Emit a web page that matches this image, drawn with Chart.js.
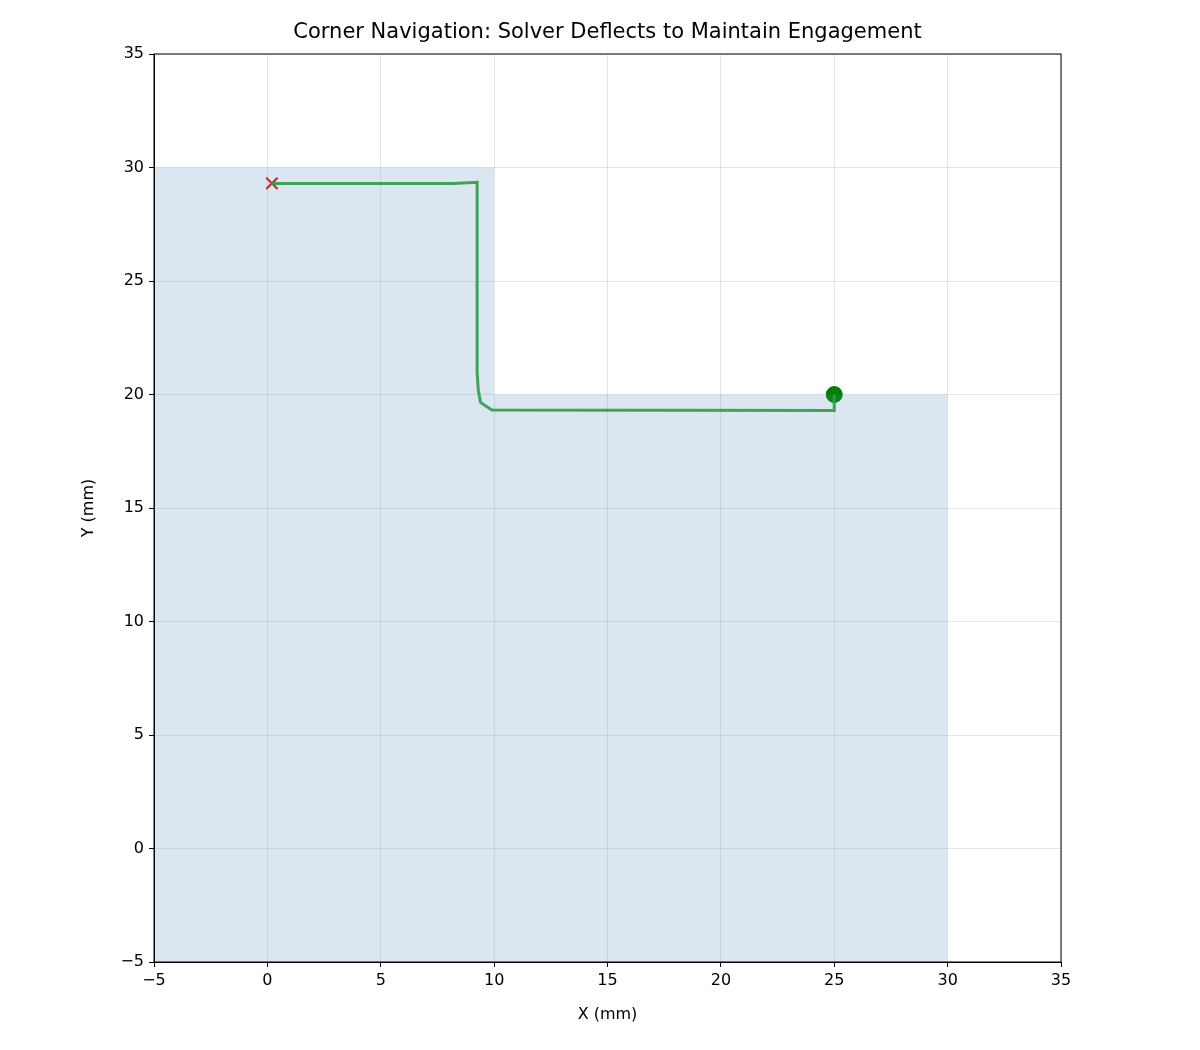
<!DOCTYPE html>
<html>
<head>
<meta charset="utf-8">
<script src="https://cdn.jsdelivr.net/npm/chart.js@4/dist/chart.umd.min.js"></script>
<style>
  html, body { margin: 0; padding: 0; background: #fff; }
  #wrap { width: 1200px; height: 1050px; }
</style>
</head>
<body>
<div id="wrap"><canvas id="c"></canvas></div>
<script>
// region boundary (filled down to axis bottom)
const regionX = [-5, 10, 10, 30];
const regionY = [30, 30, 20, 20];

// solver path
const pathX = [25.0, 25.0, 9.9, 9.4, 9.3, 9.25, 9.25, 8.2, 0.15];
const pathY = [20.0, 19.3, 19.32, 19.65, 20.2, 21.0, 29.35, 29.3, 29.3];

const startPt = { x: 25, y: 20 };
const endPt = { x: 0.2, y: 29.3 };

const tickFont = { family: 'DejaVu Sans', size: 16 };
const fmt = v => String(v).replace('-', '\u2212');

const toPts = (xs, ys) => xs.map((x, i) => ({ x: x, y: ys[i] }));

const frame = {
  id: 'frame',
  afterDraw(chart) {
    const { ctx, chartArea: a } = chart;
    ctx.save();
    ctx.strokeStyle = '#000';
    ctx.lineWidth = 1;
    ctx.strokeRect(a.left, a.top, a.right - a.left, a.bottom - a.top);
    ctx.fillStyle = '#000';
    ctx.textAlign = 'center';
    ctx.textBaseline = 'middle';
    ctx.font = '21px "DejaVu Sans"';
    ctx.fillText('Corner Navigation: Solver Deflects to Maintain Engagement', (a.left + a.right) / 2, 33);
    ctx.font = '16px "DejaVu Sans"';
    ctx.fillText('X (mm)', (a.left + a.right) / 2, 1015);
    ctx.translate(89, (a.top + a.bottom) / 2);
    ctx.rotate(-Math.PI / 2);
    ctx.fillText('Y (mm)', 0, 0);
    ctx.restore();
  }
};

new Chart(document.getElementById('c'), {
  type: 'scatter',
  data: {
    datasets: [
      {
        data: toPts(regionX, regionY),
        showLine: true,
        fill: 'start',
        backgroundColor: 'rgba(70,130,180,0.2)',
        borderWidth: 0,
        pointRadius: 0
      },
      {
        data: toPts(pathX, pathY),
        showLine: true,
        borderColor: 'rgba(44,160,44,0.9)',
        borderWidth: 3,
        pointRadius: 0
      },
      {
        data: [startPt],
        pointRadius: 8,
        backgroundColor: '#008000',
        borderColor: '#008000'
      },
      {
        data: [endPt],
        pointStyle: 'crossRot',
        pointRadius: 8,
        borderColor: '#ff0000',
        borderWidth: 2
      }
    ]
  },
  options: {
    responsive: true,
    maintainAspectRatio: false,
    animation: false,
    layout: { padding: { top: 54, right: 139, left: 0, bottom: 0 } },
    plugins: { legend: { display: false }, tooltip: { enabled: false } },
    scales: {
      x: {
        type: 'linear', min: -5, max: 35,
        afterFit: s => { s.height = 88; },
        ticks: { stepSize: 5, color: '#000', font: tickFont, callback: fmt, padding: 4, maxRotation: 0 },
        grid: { color: 'rgba(0,0,0,0.1)', tickColor: '#000', tickLength: 5 },
        border: { color: '#000' }
      },
      y: {
        type: 'linear', min: -5, max: 35,
        afterFit: s => { s.width = 154; },
        ticks: { stepSize: 5, color: '#000', font: tickFont, callback: fmt, padding: 5 },
        grid: { color: 'rgba(0,0,0,0.1)', tickColor: '#000', tickLength: 5 },
        border: { color: '#000' }
      }
    }
  },
  plugins: [frame]
});
</script>
</body>
</html>
